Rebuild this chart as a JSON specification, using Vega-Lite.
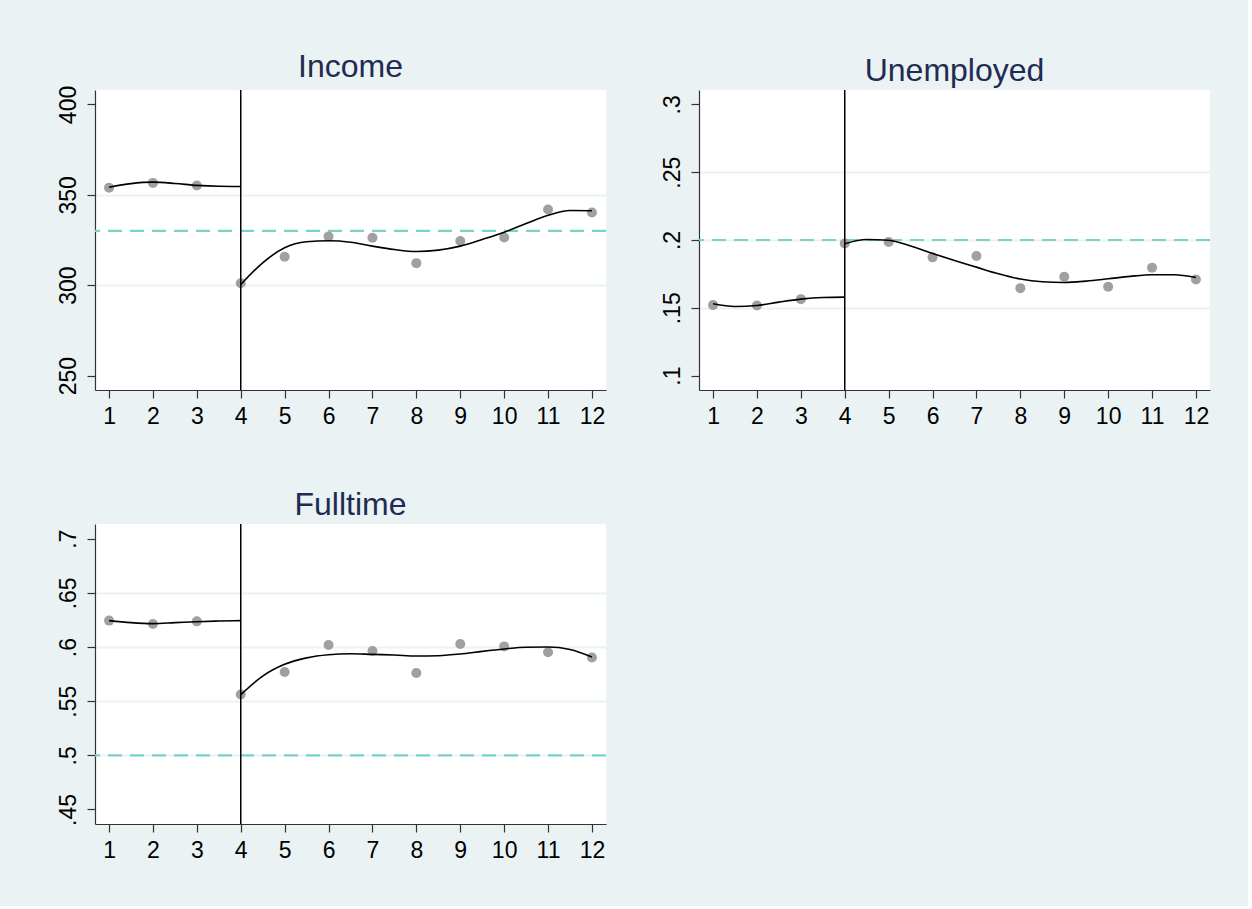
{
  "$schema": "https://vega.github.io/schema/vega-lite/v6.json",
  "background": "#EAF2F3",
  "padding": {"left": 57, "top": 51, "right": 36, "bottom": 44},
  "bounds": "flush",
  "columns": 2,
  "spacing": {"row": 134, "column": 93},
  "config": {
    "font": "Liberation Sans",
    "view": {"fill": "white", "stroke": null},
    "title": {"fontSize": 32, "fontWeight": "normal", "color": "#1F2B52", "font": "Liberation Sans", "anchor": "middle", "offset": 1, "baseline": "bottom"},
    "axis": {
      "domainColor": "#333333", "domainWidth": 1.2,
      "tickColor": "#333333", "tickWidth": 1.2, "tickSize": 8,
      "labelFont": "Liberation Sans", "labelFontSize": 23, "labelColor": "black",
      "labelPadding": 7, "title": null,
      "gridColor": "#EAF2F3", "gridWidth": 2
    }
  },
  "datasets": {
    "points": [
      {"panel": "Income", "x": 1, "y": 353.9}, {"panel": "Income", "x": 2, "y": 356.6}, {"panel": "Income", "x": 3, "y": 355.2}, {"panel": "Income", "x": 4, "y": 301.1},
      {"panel": "Income", "x": 5, "y": 315.7}, {"panel": "Income", "x": 6, "y": 326.9}, {"panel": "Income", "x": 7, "y": 326.2}, {"panel": "Income", "x": 8, "y": 312.2},
      {"panel": "Income", "x": 9, "y": 324.4}, {"panel": "Income", "x": 10, "y": 326.4}, {"panel": "Income", "x": 11, "y": 341.9}, {"panel": "Income", "x": 12, "y": 340.2},
      {"panel": "Unemployed", "x": 1, "y": 0.152}, {"panel": "Unemployed", "x": 2, "y": 0.1517}, {"panel": "Unemployed", "x": 3, "y": 0.1564}, {"panel": "Unemployed", "x": 4, "y": 0.1975},
      {"panel": "Unemployed", "x": 5, "y": 0.1985}, {"panel": "Unemployed", "x": 6, "y": 0.1872}, {"panel": "Unemployed", "x": 7, "y": 0.1882}, {"panel": "Unemployed", "x": 8, "y": 0.1645},
      {"panel": "Unemployed", "x": 9, "y": 0.1729}, {"panel": "Unemployed", "x": 10, "y": 0.1655}, {"panel": "Unemployed", "x": 11, "y": 0.1796}, {"panel": "Unemployed", "x": 12, "y": 0.1709},
      {"panel": "Fulltime", "x": 1, "y": 0.6244}, {"panel": "Fulltime", "x": 2, "y": 0.6213}, {"panel": "Fulltime", "x": 3, "y": 0.6237}, {"panel": "Fulltime", "x": 4, "y": 0.5562},
      {"panel": "Fulltime", "x": 5, "y": 0.5769}, {"panel": "Fulltime", "x": 6, "y": 0.6018}, {"panel": "Fulltime", "x": 7, "y": 0.5963}, {"panel": "Fulltime", "x": 8, "y": 0.576},
      {"panel": "Fulltime", "x": 9, "y": 0.6028}, {"panel": "Fulltime", "x": 10, "y": 0.6006}, {"panel": "Fulltime", "x": 11, "y": 0.5951}, {"panel": "Fulltime", "x": 12, "y": 0.5904}
    ],
    "curves": [
      {"panel": "Income", "period": "pre", "x": 1, "y": 354.2}, {"panel": "Income", "period": "pre", "x": 1.5, "y": 356.2}, {"panel": "Income", "period": "pre", "x": 2, "y": 357.0},
      {"panel": "Income", "period": "pre", "x": 2.5, "y": 356.3}, {"panel": "Income", "period": "pre", "x": 3, "y": 355.2}, {"panel": "Income", "period": "pre", "x": 3.5, "y": 354.7}, {"panel": "Income", "period": "pre", "x": 4, "y": 354.6},
      {"panel": "Income", "period": "post", "x": 4, "y": 300.4}, {"panel": "Income", "period": "post", "x": 4.5, "y": 312.4}, {"panel": "Income", "period": "post", "x": 5, "y": 320.7},
      {"panel": "Income", "period": "post", "x": 5.5, "y": 324.0}, {"panel": "Income", "period": "post", "x": 6, "y": 324.6}, {"panel": "Income", "period": "post", "x": 6.5, "y": 323.8},
      {"panel": "Income", "period": "post", "x": 7, "y": 321.6}, {"panel": "Income", "period": "post", "x": 7.5, "y": 319.7}, {"panel": "Income", "period": "post", "x": 8, "y": 318.6},
      {"panel": "Income", "period": "post", "x": 8.5, "y": 319.4}, {"panel": "Income", "period": "post", "x": 9, "y": 321.6}, {"panel": "Income", "period": "post", "x": 9.5, "y": 325.3},
      {"panel": "Income", "period": "post", "x": 10, "y": 329.3}, {"panel": "Income", "period": "post", "x": 10.5, "y": 334.1}, {"panel": "Income", "period": "post", "x": 11, "y": 338.7},
      {"panel": "Income", "period": "post", "x": 11.5, "y": 341.3}, {"panel": "Income", "period": "post", "x": 12, "y": 341.2},
      {"panel": "Unemployed", "period": "pre", "x": 1, "y": 0.153}, {"panel": "Unemployed", "period": "pre", "x": 1.5, "y": 0.151}, {"panel": "Unemployed", "period": "pre", "x": 2, "y": 0.1517},
      {"panel": "Unemployed", "period": "pre", "x": 2.5, "y": 0.1542}, {"panel": "Unemployed", "period": "pre", "x": 3, "y": 0.1564}, {"panel": "Unemployed", "period": "pre", "x": 3.5, "y": 0.1576}, {"panel": "Unemployed", "period": "pre", "x": 4, "y": 0.1579},
      {"panel": "Unemployed", "period": "post", "x": 4, "y": 0.1973}, {"panel": "Unemployed", "period": "post", "x": 4.5, "y": 0.2004}, {"panel": "Unemployed", "period": "post", "x": 5, "y": 0.1998},
      {"panel": "Unemployed", "period": "post", "x": 5.5, "y": 0.1956}, {"panel": "Unemployed", "period": "post", "x": 6, "y": 0.1901}, {"panel": "Unemployed", "period": "post", "x": 6.5, "y": 0.1849},
      {"panel": "Unemployed", "period": "post", "x": 7, "y": 0.18}, {"panel": "Unemployed", "period": "post", "x": 7.5, "y": 0.1751}, {"panel": "Unemployed", "period": "post", "x": 8, "y": 0.1712},
      {"panel": "Unemployed", "period": "post", "x": 8.5, "y": 0.1692}, {"panel": "Unemployed", "period": "post", "x": 9, "y": 0.1687}, {"panel": "Unemployed", "period": "post", "x": 9.5, "y": 0.1697},
      {"panel": "Unemployed", "period": "post", "x": 10, "y": 0.1714}, {"panel": "Unemployed", "period": "post", "x": 10.5, "y": 0.1732}, {"panel": "Unemployed", "period": "post", "x": 11, "y": 0.1744},
      {"panel": "Unemployed", "period": "post", "x": 11.5, "y": 0.1744}, {"panel": "Unemployed", "period": "post", "x": 12, "y": 0.1724},
      {"panel": "Fulltime", "period": "pre", "x": 1, "y": 0.6244}, {"panel": "Fulltime", "period": "pre", "x": 1.5, "y": 0.6225}, {"panel": "Fulltime", "period": "pre", "x": 2, "y": 0.6216},
      {"panel": "Fulltime", "period": "pre", "x": 2.5, "y": 0.6225}, {"panel": "Fulltime", "period": "pre", "x": 3, "y": 0.6234}, {"panel": "Fulltime", "period": "pre", "x": 3.5, "y": 0.624}, {"panel": "Fulltime", "period": "pre", "x": 4, "y": 0.6244},
      {"panel": "Fulltime", "period": "post", "x": 4, "y": 0.556}, {"panel": "Fulltime", "period": "post", "x": 4.5, "y": 0.5732}, {"panel": "Fulltime", "period": "post", "x": 5, "y": 0.584},
      {"panel": "Fulltime", "period": "post", "x": 5.5, "y": 0.59}, {"panel": "Fulltime", "period": "post", "x": 6, "y": 0.5929}, {"panel": "Fulltime", "period": "post", "x": 6.5, "y": 0.5938},
      {"panel": "Fulltime", "period": "post", "x": 7, "y": 0.5932}, {"panel": "Fulltime", "period": "post", "x": 7.5, "y": 0.5926}, {"panel": "Fulltime", "period": "post", "x": 8, "y": 0.5917},
      {"panel": "Fulltime", "period": "post", "x": 8.5, "y": 0.592}, {"panel": "Fulltime", "period": "post", "x": 9, "y": 0.5935}, {"panel": "Fulltime", "period": "post", "x": 9.5, "y": 0.596},
      {"panel": "Fulltime", "period": "post", "x": 10, "y": 0.5982}, {"panel": "Fulltime", "period": "post", "x": 10.5, "y": 0.5998}, {"panel": "Fulltime", "period": "post", "x": 11, "y": 0.6},
      {"panel": "Fulltime", "period": "post", "x": 11.5, "y": 0.5978}, {"panel": "Fulltime", "period": "post", "x": 12, "y": 0.5908}
    ],
    "refs": [
      {"panel": "Income", "ref": 330, "cut": 4},
      {"panel": "Unemployed", "ref": 0.2, "cut": 4},
      {"panel": "Fulltime", "ref": 0.5, "cut": 4}
    ]
  },
  "concat": [
    {
      "title": "Income",
      "width": 511, "height": 300,
      "layer": [
        {
          "data": {"name": "refs"},
          "transform": [{"filter": "datum.panel === 'Income'"}],
          "mark": {"type": "rule", "color": "#79D3C9", "strokeWidth": 2.2, "strokeDash": [14, 8]},
          "encoding": {"y": {"field": "ref", "type": "quantitative", "scale": {"domain": [242, 408], "nice": false, "zero": false}, "axis": {"values": [250, 300, 350, 400], "labelAngle": -90, "labelAlign": "center", "labelBaseline": "bottom", "grid": true, "gridOpacity": {"condition": {"test": "datum.index === 0 || datum.index === 1", "value": 0}, "value": 1}}}}
        },
        {
          "data": {"name": "points"},
          "transform": [{"filter": "datum.panel === 'Income'"}],
          "mark": {"type": "circle", "size": 100, "color": "#A0A0A0", "opacity": 1},
          "encoding": {
            "x": {"field": "x", "type": "quantitative", "scale": {"domain": [0.68, 12.32], "nice": false, "zero": false}, "axis": {"values": [1,2,3,4,5,6,7,8,9,10,11,12], "labelAngle": 0, "grid": false}},
            "y": {"field": "y", "type": "quantitative"}
          }
        },
        {
          "data": {"name": "refs"},
          "transform": [{"filter": "datum.panel === 'Income'"}],
          "mark": {"type": "rule", "color": "black", "strokeWidth": 1.5},
          "encoding": {"x": {"field": "cut", "type": "quantitative"}}
        },
        {
          "data": {"name": "curves"},
          "transform": [{"filter": "datum.panel === 'Income'"}],
          "mark": {"type": "line", "color": "black", "strokeWidth": 1.6, "interpolate": "monotone"},
          "encoding": {"x": {"field": "x", "type": "quantitative"}, "y": {"field": "y", "type": "quantitative"}, "detail": {"field": "period"}}
        }
      ]
    },
    {
      "title": "Unemployed",
      "width": 511, "height": 300,
      "layer": [
        {
          "data": {"name": "refs"},
          "transform": [{"filter": "datum.panel === 'Unemployed'"}],
          "mark": {"type": "rule", "color": "#79D3C9", "strokeWidth": 2.2, "strokeDash": [14, 8]},
          "encoding": {"y": {"field": "ref", "type": "quantitative", "scale": {"domain": [0.0894, 0.3106], "nice": false, "zero": false}, "axis": {"values": [0.1, 0.15, 0.2, 0.25, 0.3], "labelExpr": "replace(format(datum.value, '.2~f'), /^0/, '')", "labelAngle": -90, "labelAlign": "center", "labelBaseline": "bottom", "grid": true, "gridOpacity": {"condition": {"test": "datum.index === 0 || datum.index === 1", "value": 0}, "value": 1}}}}
        },
        {
          "data": {"name": "points"},
          "transform": [{"filter": "datum.panel === 'Unemployed'"}],
          "mark": {"type": "circle", "size": 100, "color": "#A0A0A0", "opacity": 1},
          "encoding": {
            "x": {"field": "x", "type": "quantitative", "scale": {"domain": [0.68, 12.32], "nice": false, "zero": false}, "axis": {"values": [1,2,3,4,5,6,7,8,9,10,11,12], "labelAngle": 0, "grid": false}},
            "y": {"field": "y", "type": "quantitative"}
          }
        },
        {
          "data": {"name": "refs"},
          "transform": [{"filter": "datum.panel === 'Unemployed'"}],
          "mark": {"type": "rule", "color": "black", "strokeWidth": 1.5},
          "encoding": {"x": {"field": "cut", "type": "quantitative"}}
        },
        {
          "data": {"name": "curves"},
          "transform": [{"filter": "datum.panel === 'Unemployed'"}],
          "mark": {"type": "line", "color": "black", "strokeWidth": 1.6, "interpolate": "monotone"},
          "encoding": {"x": {"field": "x", "type": "quantitative"}, "y": {"field": "y", "type": "quantitative"}, "detail": {"field": "period"}}
        }
      ]
    },
    {
      "title": "Fulltime",
      "width": 511, "height": 300,
      "layer": [
        {
          "data": {"name": "refs"},
          "transform": [{"filter": "datum.panel === 'Fulltime'"}],
          "mark": {"type": "rule", "color": "#79D3C9", "strokeWidth": 2.2, "strokeDash": [14, 8]},
          "encoding": {"y": {"field": "ref", "type": "quantitative", "scale": {"domain": [0.4366, 0.7136], "nice": false, "zero": false}, "axis": {"values": [0.45, 0.5, 0.55, 0.6, 0.65, 0.7], "labelExpr": "replace(format(datum.value, '.2~f'), /^0/, '')", "labelAngle": -90, "labelAlign": "center", "labelBaseline": "bottom", "grid": true, "gridOpacity": {"condition": {"test": "datum.index === 0 || datum.index === 1", "value": 0}, "value": 1}}}}
        },
        {
          "data": {"name": "points"},
          "transform": [{"filter": "datum.panel === 'Fulltime'"}],
          "mark": {"type": "circle", "size": 100, "color": "#A0A0A0", "opacity": 1},
          "encoding": {
            "x": {"field": "x", "type": "quantitative", "scale": {"domain": [0.68, 12.32], "nice": false, "zero": false}, "axis": {"values": [1,2,3,4,5,6,7,8,9,10,11,12], "labelAngle": 0, "grid": false}},
            "y": {"field": "y", "type": "quantitative"}
          }
        },
        {
          "data": {"name": "refs"},
          "transform": [{"filter": "datum.panel === 'Fulltime'"}],
          "mark": {"type": "rule", "color": "black", "strokeWidth": 1.5},
          "encoding": {"x": {"field": "cut", "type": "quantitative"}}
        },
        {
          "data": {"name": "curves"},
          "transform": [{"filter": "datum.panel === 'Fulltime'"}],
          "mark": {"type": "line", "color": "black", "strokeWidth": 1.6, "interpolate": "monotone"},
          "encoding": {"x": {"field": "x", "type": "quantitative"}, "y": {"field": "y", "type": "quantitative"}, "detail": {"field": "period"}}
        }
      ]
    }
  ]
}
